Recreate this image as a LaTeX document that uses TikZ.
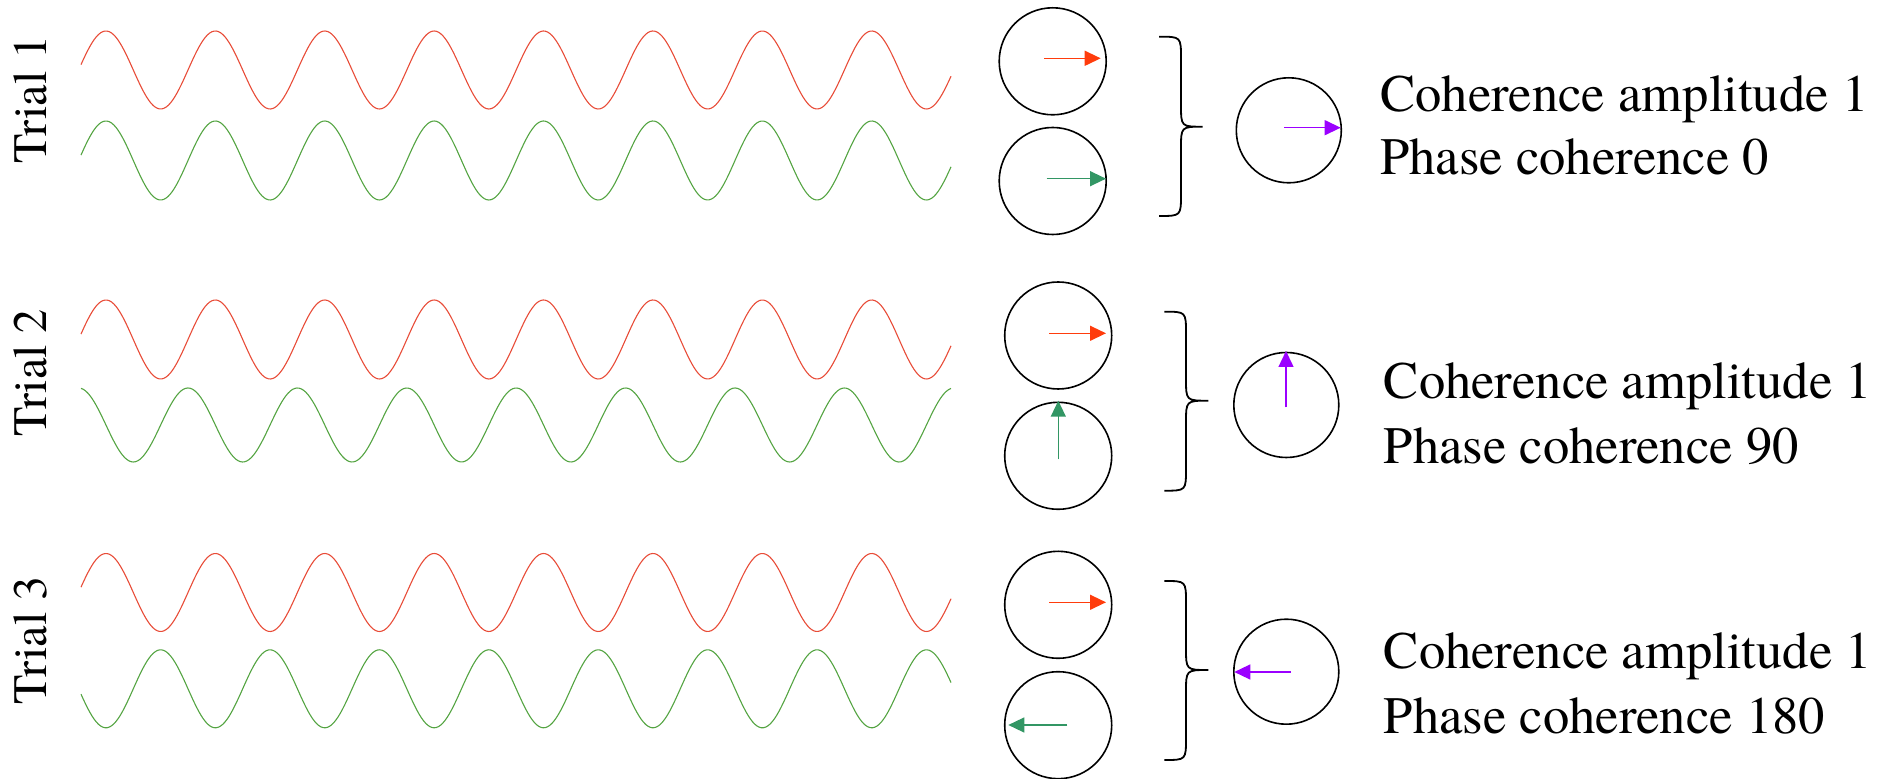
\documentclass[tikz,border=0pt]{standalone}
\usepackage{fontspec}
\setmainfont{texgyretermes}[Extension=.otf, UprightFont=*-regular, BoldFont=*-bold, ItalicFont=*-italic]
\usetikzlibrary{arrows.meta}
\definecolor{wavered}{RGB}{232,76,56}
\definecolor{wavegreen}{RGB}{84,164,66}
\definecolor{arrowred}{RGB}{255,60,12}
\definecolor{arrowgreen}{RGB}{50,150,100}
\definecolor{arrowpurple}{RGB}{155,0,255}
\begin{document}
\begin{tikzpicture}[x=0.5pt,y=-0.5pt,
  wave/.style={line width=0.55pt},
  dial/.style={circle, draw, line width=0.8pt, minimum size=53.5pt, inner sep=0pt},
  phasor/.style={line width=0.7pt, -{Triangle[length=8pt,width=7.5pt]}},
  curly/.style={line width=0.9pt},
  triallabel/.style={rotate=90, inner sep=0pt, font=\rmfamily\fontsize{24pt}{28pt}\selectfont},
  infotext/.style={anchor=base west, inner sep=0pt, font=\rmfamily\fontsize{26.3pt}{32pt}\selectfont}
]
\useasboundingbox (0,0) rectangle (1895,779);

% ---------- Trial labels ----------
\node[triallabel] (l1) at (30,99.5) {Trial 1};
\node[triallabel] (l2) at (30,373) {Trial 2};
\node[triallabel] (l3) at (30,640.4) {Trial 3};

% ---------- Waves ----------
\draw[wave, wavered]   plot[domain=81:951, samples=400] (\x, {70-39*sin(3.29068*(\x-78.6))});
\draw[wave, wavegreen] plot[domain=81:951, samples=400] (\x, {160.5-39.5*sin(3.29068*(\x-78.6))});

\draw[wave, wavered]   plot[domain=81:951, samples=400] (\x, {339.5-39.5*sin(3.29068*(\x-78.6))});
\draw[wave, wavegreen] plot[domain=81:951, samples=400] (\x, {425-37*cos(3.29068*(\x-78.6))});

\draw[wave, wavered]   plot[domain=81:951, samples=400] (\x, {592.5-39*sin(3.29068*(\x-78.6))});
\draw[wave, wavegreen] plot[domain=81:951, samples=400] (\x, {688.8+39*sin(3.29068*(\x-78.6))});

% ---------- Dials ----------
\node[dial] (a1) at (1052.7,61.3) {};
\node[dial] (b1) at (1052.7,181) {};
\node[dial, minimum size=52.5pt] (p1) at (1288.8,130.3) {};

\node[dial] (a2) at (1058.2,335.5) {};
\node[dial] (b2) at (1058.2,455.8) {};
\node[dial, minimum size=52.5pt] (p2) at (1286.3,405) {};

\node[dial] (a3) at (1058.2,604.8) {};
\node[dial] (b3) at (1058.2,725.2) {};
\node[dial, minimum size=52.5pt] (p3) at (1286.3,671.7) {};

% ---------- Phasors ----------
\coordinate (ra1) at (1044,58.3);   \coordinate (rb1) at (1100.7,58.3);
\coordinate (ga1) at (1046.7,178.7); \coordinate (gb1) at (1106,178.7);
\coordinate (pa1) at (1284,127.7);  \coordinate (pb1) at (1340.7,127.7);
\draw[phasor, arrowred]    (ra1) -- (rb1);
\draw[phasor, arrowgreen]  (ga1) -- (gb1);
\draw[phasor, arrowpurple] (pa1) -- (pb1);

\coordinate (ra2) at (1049.3,333.3); \coordinate (rb2) at (1106,333.3);
\coordinate (ga2) at (1058.3,459.3); \coordinate (gb2) at (1058.3,400.7);
\coordinate (pa2) at (1286,407.3);   \coordinate (pb2) at (1286,351);
\draw[phasor, arrowred]    (ra2) -- (rb2);
\draw[phasor, arrowgreen]  (ga2) -- (gb2);
\draw[phasor, arrowpurple] (pa2) -- (pb2);

\coordinate (ra3) at (1049.3,602.3); \coordinate (rb3) at (1106,602.3);
\coordinate (ga3) at (1067.3,725);   \coordinate (gb3) at (1008.3,725);
\coordinate (pa3) at (1290.7,672);   \coordinate (pb3) at (1234.3,672);
\draw[phasor, arrowred]    (ra3) -- (rb3);
\draw[phasor, arrowgreen]  (ga3) -- (gb3);
\draw[phasor, arrowpurple] (pa3) -- (pb3);

% ---------- Braces ----------
\draw[curly] (1159,36.7) .. controls (1181,36.7) and (1181,36.7) .. (1181,58.7)
  -- (1181,104.7) .. controls (1181,126.7) and (1181,126.7) .. (1202.7,126.7)
  .. controls (1181,126.7) and (1181,126.7) .. (1181,148.7)
  -- (1181,194) .. controls (1181,216) and (1181,216) .. (1159,216);

\draw[curly] (1164.3,311.7) .. controls (1186,311.7) and (1186,311.7) .. (1186,333.7)
  -- (1186,378.7) .. controls (1186,400.7) and (1186,400.7) .. (1208.3,400.7)
  .. controls (1186,400.7) and (1186,400.7) .. (1186,422.7)
  -- (1186,468.7) .. controls (1186,490.7) and (1186,490.7) .. (1164.3,490.7);

\draw[curly] (1164.3,581) .. controls (1186,581) and (1186,581) .. (1186,603)
  -- (1186,648) .. controls (1186,670) and (1186,670) .. (1208.3,670)
  .. controls (1186,670) and (1186,670) .. (1186,692)
  -- (1186,738) .. controls (1186,760) and (1186,760) .. (1164.3,760);

% ---------- Texts ----------
\node[infotext] (t1a) at (1380,111.7) {Coherence amplitude 1};
\node[infotext] (t1b) at (1380,175) {Phase coherence 0};
\node[infotext] (t2a) at (1383.5,398.3) {Coherence amplitude 1};
\node[infotext] (t2b) at (1383.5,463.3) {Phase coherence 90};
\node[infotext] (t3a) at (1383.5,669) {Coherence amplitude 1};
\node[infotext] (t3b) at (1383.5,733.3) {Phase coherence 180};
\end{tikzpicture}
\end{document}
